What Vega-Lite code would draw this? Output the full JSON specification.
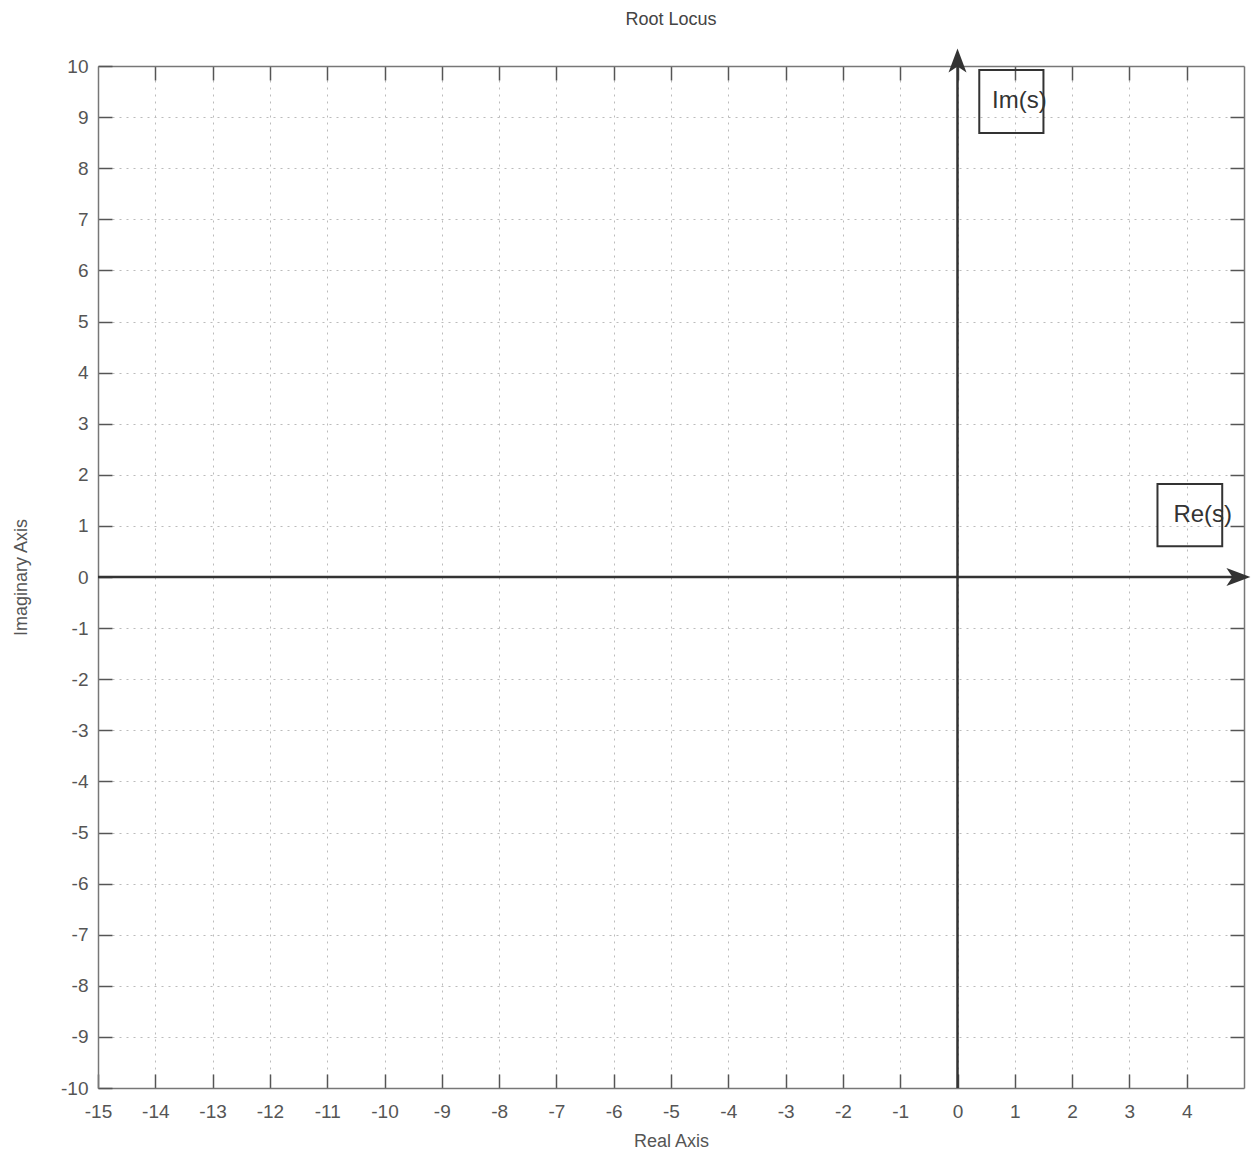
{
  "$schema": "https://vega.github.io/schema/vega-lite/v6.json",
  "width": 1146,
  "height": 1022,
  "autosize": {"type": "none"},
  "padding": {"left": 98, "top": 66, "right": 7, "bottom": 70},
  "background": "white",
  "title": {"text": "Root Locus", "fontSize": 18, "font": "Liberation Sans", "fontWeight": "normal", "color": "#444", "offset": 19},
  "config": {
    "view": {"stroke": null},
    "axis": {
      "labelFont": "Liberation Sans", "labelFontSize": 19, "labelColor": "#555",
      "titleFont": "Liberation Sans", "titleFontSize": 18, "titleColor": "#555", "titleFontWeight": "normal",
      "domainColor": "#777", "domainWidth": 1.5,
      "tickColor": "#555", "tickWidth": 1.5, "tickSize": -14,
      "gridColor": "#bbb", "gridDash": [2, 5], "gridWidth": 1,
      "labelExpr": "'' + datum.value",
      "labelFlush": false
    }
  },
  "datasets": {
    "arrows": [
      {"name": "Re", "x": -15, "x2": 4.9, "y": 0, "y2": 0},
      {"name": "Im", "x": 0, "x2": 0, "y": -10, "y2": 10.15}
    ],
    "heads": [
      {"name": "Re", "x": 4.85, "y": 0, "shape": "M1,0L-0.6,0.6L-0.2,0L-0.6,-0.6Z"},
      {"name": "Im", "x": 0, "y": 10.05, "shape": "M0,-1L0.6,0.6L0,0.2L-0.6,0.6Z"}
    ],
    "boxes": [
      {"label": "Im(s)", "x": 0.38, "x2": 1.5, "y": 9.92, "y2": 8.69, "tx": 1.08, "ty": 9.32},
      {"label": "Re(s)", "x": 3.49, "x2": 4.62, "y": 1.82, "y2": 0.6, "tx": 4.28, "ty": 1.22}
    ]
  },
  "resolve": {"axis": {"x": "independent", "y": "independent"}},
  "layer": [
    {
      "data": {"name": "arrows"},
      "mark": {"type": "rule", "color": "#333", "strokeWidth": 2.5, "clip": false},
      "encoding": {
        "x": {"field": "x", "type": "quantitative",
              "scale": {"domain": [-15, 5], "nice": false, "zero": false},
              "axis": {"orient": "bottom", "values": [-15,-14,-13,-12,-11,-10,-9,-8,-7,-6,-5,-4,-3,-2,-1,0,1,2,3,4], "title": "Real Axis", "labelPadding": 28, "titlePadding": 11, "grid": true}},
        "x2": {"field": "x2"},
        "y": {"field": "y", "type": "quantitative",
              "scale": {"domain": [-10, 10], "nice": false, "zero": false},
              "axis": {"orient": "left", "values": [-10,-9,-8,-7,-6,-5,-4,-3,-2,-1,0,1,2,3,4,5,6,7,8,9,10], "title": "Imaginary Axis", "labelPadding": 24, "titlePadding": 30, "grid": true}},
        "y2": {"field": "y2"}
      }
    },
    {
      "data": {"name": "heads"},
      "mark": {"type": "point", "filled": true, "color": "#333", "opacity": 1, "size": 900, "clip": false},
      "encoding": {
        "x": {"field": "x", "type": "quantitative",
              "scale": {"domain": [-15, 5], "nice": false, "zero": false},
              "axis": {"orient": "top", "values": [-14,-13,-12,-11,-10,-9,-8,-7,-6,-5,-4,-3,-2,-1,0,1,2,3,4], "labels": false, "title": null, "grid": false}},
        "y": {"field": "y", "type": "quantitative",
              "scale": {"domain": [-10, 10], "nice": false, "zero": false},
              "axis": {"orient": "right", "values": [-9,-8,-7,-6,-5,-4,-3,-2,-1,0,1,2,3,4,5,6,7,8,9], "labels": false, "title": null, "grid": false}},
        "shape": {"field": "shape", "type": "nominal", "scale": null}
      }
    },
    {
      "data": {"name": "boxes"},
      "mark": {"type": "rect", "fill": null, "fillOpacity": 0, "stroke": "#333", "strokeWidth": 2},
      "encoding": {
        "x": {"field": "x", "type": "quantitative", "scale": {"domain": [-15, 5], "nice": false, "zero": false}, "axis": null},
        "x2": {"field": "x2"},
        "y": {"field": "y", "type": "quantitative", "scale": {"domain": [-10, 10], "nice": false, "zero": false}, "axis": null},
        "y2": {"field": "y2"}
      }
    },
    {
      "data": {"name": "boxes"},
      "mark": {"type": "text", "font": "Liberation Sans", "fontSize": 24, "color": "#333", "align": "center", "baseline": "middle"},
      "encoding": {
        "x": {"field": "tx", "type": "quantitative", "scale": {"domain": [-15, 5], "nice": false, "zero": false}, "axis": null},
        "y": {"field": "ty", "type": "quantitative", "scale": {"domain": [-10, 10], "nice": false, "zero": false}, "axis": null},
        "text": {"field": "label", "type": "nominal"}
      }
    }
  ]
}
